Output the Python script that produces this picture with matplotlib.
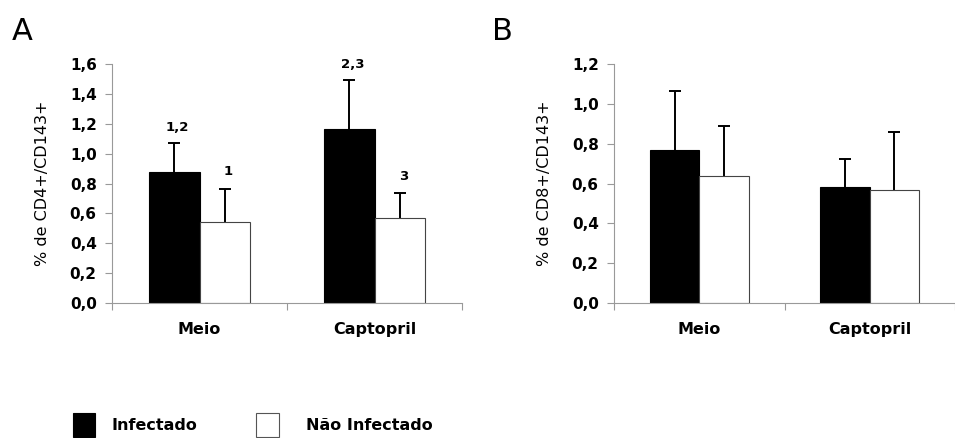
import numpy as np
import matplotlib.pyplot as plt
from matplotlib.patches import Rectangle
from matplotlib.ticker import FuncFormatter

categories = ["Meio", "Captopril"]
series = ["Infectado", "Não Infectado"]

# CD4+/CD143+
cd4_infect = [0.875, 1.162]
cd4_infect_err = [0.198, 0.328]
cd4_nao = [0.544, 0.569]
cd4_nao_err = [0.221, 0.167]
cd4_marks_infect = ["1,2", "2,3"]
cd4_marks_nao = ["1", "3"]

# CD8+/CD143+
cd8_infect = [0.770, 0.581]
cd8_infect_err = [0.296, 0.144]
cd8_nao = [0.638, 0.567]
cd8_nao_err = [0.251, 0.291]

plt.rcParams['font.family'] = ['DejaVu Sans']

W, H = 955, 438
fig = plt.figure(figsize=(W/100, H/100), dpi=100)
axA = fig.add_axes([112/W, 135/H, 350/W, 239/H])
axB = fig.add_axes([614/W, 135/H, 341/W, 239/H])

comma = FuncFormatter(lambda v, p: f"{v:.1f}".replace(".", ","))
w = 0.29
x = np.arange(len(categories))


def upper_err(ax, xs, ys, err, z):
    # only the upper half of the error bar, no cap at the bar top
    _, caps, _ = ax.errorbar(xs, ys, yerr=[np.zeros(len(ys)), err], fmt="none",
                             ecolor="black", elinewidth=1.4, capsize=4, capthick=1.4, zorder=z)
    caps[0].set_visible(False)


def draw(ax, inf, inf_err, nao, nao_err, ymax, ylabel):
    ax.bar(x - w/2, inf, w, color="black", edgecolor="black", linewidth=0.8, zorder=2)
    ax.bar(x + w/2, nao, w, color="white", edgecolor="#444444", linewidth=0.8, zorder=2)
    upper_err(ax, x - w/2, inf, inf_err, 3)
    upper_err(ax, x + w/2, nao, nao_err, 1)
    ax.set_xlim(-0.5, 1.5)
    ax.set_ylim(0, ymax)
    ax.set_yticks(np.arange(0, ymax + 0.01, 0.2))
    ax.yaxis.set_major_formatter(comma)
    ax.set_xticks([-0.5, 0.5, 1.5])
    ax.set_xticklabels([])
    ax.set_xticks(x, minor=True)
    ax.set_xticklabels(categories, minor=True, fontsize=11.5, fontweight="bold")
    ax.tick_params(axis="x", which="minor", length=0, pad=14)
    ax.tick_params(axis="x", which="major", length=5, color="#999999")
    ax.tick_params(axis="y", length=5, color="#999999", labelsize=11, pad=6)
    for lab in ax.get_yticklabels():
        lab.set_fontweight("bold")
    for s in ["top", "right"]:
        ax.spines[s].set_visible(False)
    for s in ["left", "bottom"]:
        ax.spines[s].set_color("#999999")
    ax.set_ylabel(ylabel, fontsize=11.5, labelpad=14, fontweight="medium")


draw(axA, cd4_infect, cd4_infect_err, cd4_nao, cd4_nao_err, 1.6, "% de CD4+/CD143+")
draw(axB, cd8_infect, cd8_infect_err, cd8_nao, cd8_nao_err, 1.2, "% de CD8+/CD143+")

# significance marks above panel A bars
for i in range(len(categories)):
    axA.text(x[i] - w/2 + 0.02, cd4_infect[i] + cd4_infect_err[i] + 0.06, cd4_marks_infect[i],
             ha="center", va="bottom", fontsize=9.5, fontweight="bold")
    axA.text(x[i] + w/2 + 0.02, cd4_nao[i] + cd4_nao_err[i] + 0.07, cd4_marks_nao[i],
             ha="center", va="bottom", fontsize=9.5, fontweight="bold")

fig.text(12/W, 1 - 40/H, "A", fontsize=22)
fig.text(492/W, 1 - 40/H, "B", fontsize=22)

# legend keys along the bottom
fig.add_artist(Rectangle((73/W, 1 - 437/H), 22/W, 24/H, transform=fig.transFigure,
                         facecolor="black", edgecolor="black", lw=0.8))
fig.text(111/W, 1 - 426/H, series[0], fontsize=11.5, fontweight="bold", va="center")
fig.add_artist(Rectangle((256/W, 1 - 437/H), 23/W, 24/H, transform=fig.transFigure,
                         facecolor="white", edgecolor="#555555", lw=0.8))
fig.text(306/W, 1 - 426/H, series[1], fontsize=11.5, fontweight="bold", va="center")

fig.savefig("out.png", dpi=100)
